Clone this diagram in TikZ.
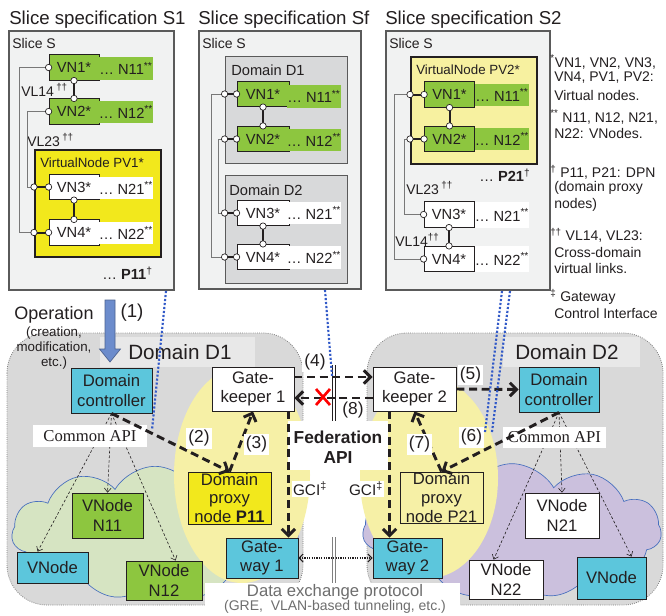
\documentclass[tikz,border=0pt]{standalone}
\usepackage{fontspec}
\setmainfont{Liberation Sans}
\newfontfamily\seriffont{Liberation Serif}
\usetikzlibrary{arrows.meta,shapes.symbols}
\newcommand\setfs[2]{\fontsize{#1}{#2}\selectfont}
\newcommand\conncirc[1]{\draw[fill=white,draw=txt,line width=0.5pt] (#1) circle[radius=3.2];}
\definecolor{txt}{RGB}{35,31,32}
\definecolor{panelbg}{RGB}{241,242,242}
\definecolor{panelline}{RGB}{90,90,90}
\definecolor{dombg}{RGB}{216,217,218}
\definecolor{vgreen}{RGB}{141,198,63}
\definecolor{vyellow}{RGB}{242,232,28}
\definecolor{lyellow}{RGB}{247,241,160}
\definecolor{ellyellow}{RGB}{246,240,166}
\definecolor{vcyan}{RGB}{92,198,220}
\definecolor{dgray}{RGB}{217,217,217}
\definecolor{gcloud}{RGB}{214,228,194}
\definecolor{pcloud}{RGB}{203,192,221}
\definecolor{cloudline}{RGB}{70,110,190}
\definecolor{bdot}{RGB}{50,90,200}
\definecolor{oparrow}{RGB}{108,140,204}
\definecolor{linkgray}{RGB}{120,120,120}
\definecolor{dgtext}{RGB}{110,110,110}
\begin{document}
\begin{tikzpicture}[x=0.75pt,y=-0.75pt,
  every node/.style={text=txt},
  panel/.style={fill=panelbg,draw=panelline,line width=0.9pt},
  titletext/.style={anchor=west,inner sep=0pt,font=\setfs{14}{16}},
  smalltext/.style={anchor=west,inner sep=0pt,font=\setfs{10.5}{12}},
  vnbox/.style={draw=txt,line width=0.6pt,minimum width=37.5pt,minimum height=19pt,inner sep=0pt,font=\setfs{11}{12}},
  nlabel/.style={minimum width=37.5pt,minimum height=17pt,inner sep=0pt,font=\setfs{11}{12}},
  pvbox/.style={draw=txt,line width=1.5pt,inner sep=0pt},
  dombox/.style={draw=panelline,fill=dombg,line width=0.6pt,inner sep=0pt},
  thicklink/.style={line width=1.5pt,draw=txt},
  outerlink/.style={line width=0.7pt,draw=linkgray},
  foottext/.style={anchor=west,inner sep=0pt,font=\setfs{10.5}{12}},
  domainarea/.style={fill=dgray,draw=gray,densely dotted,line width=0.6pt,rounded corners=30pt},
  bnode/.style={draw=txt,line width=0.6pt,inner sep=0pt,align=center,font=\setfs{12.5}{14.5}},
  apibox/.style={fill=white,inner sep=0pt,font=\seriffont\setfs{12.5}{14}},
  thinarr/.style={draw=txt,line width=0.45pt,dash pattern=on 2pt off 1.5pt,-{Straight Barb[length=3pt,width=5pt]}},
  thickarr/.style={draw=txt,line width=2.2pt,dash pattern=on 6pt off 3.5pt,-{Straight Barb[length=5pt,width=10pt]}},
  steplabel/.style={fill=white,inner sep=1.5pt,font=\setfs{13}{15}},
  bluedot/.style={draw=bdot,line width=1.6pt,dash pattern=on 1.6pt off 1.4pt},
  gcilabel/.style={fill=white,inner sep=1pt,font=\setfs{11.5}{13}},
  cloudarea/.style={cloud,cloud puffs=11,cloud puff arc=120,cloud ignores aspect,draw=cloudline,line width=0.5pt,inner sep=0pt}
]
\useasboundingbox (0,0) rectangle (666,615);
\fill[white] (0,0) rectangle (666,615);

%% ================= Slice specification S1 =================
\draw[panel] (9,31) rectangle (174,290);
\node[titletext] (t1) at (9,20) {Slice specification S1};
\node[smalltext] (s1s) at (12,43) {Slice S};
\node[vnbox,fill=vgreen] (s1a) at (74,67.5) {VN1*};
\node[nlabel,fill=vgreen] (s1an) at (126,68.5) {…~N11\textsuperscript{**}};
\node[vnbox,fill=vgreen] (s1b) at (74,111.5) {VN2*};
\node[nlabel,fill=vgreen] (s1bn) at (126,112) {…~N12\textsuperscript{**}};
\node[pvbox,fill=vyellow,minimum width=94.5pt,minimum height=80.25pt] (pv1) at (98,203.5) {};
\node[smalltext,font=\setfs{10}{12}] (pv1t) at (40,163) {VirtualNode PV1*};
\node[vnbox,fill=white] (s1c) at (74,187) {VN3*};
\node[nlabel,fill=white] (s1cn) at (126,188) {…~N21\textsuperscript{**}};
\node[vnbox,fill=white] (s1d) at (74,232.5) {VN4*};
\node[nlabel,fill=white] (s1dn) at (126,233) {…~N22\textsuperscript{**}};
\node[smalltext] (s1vl14) at (21,90) {VL14\,\textsuperscript{††}};
\node[smalltext] (s1vl23) at (27,140) {VL23\,\textsuperscript{††}};
\node[smalltext,font=\setfs{11}{12}] (s1p) at (102,273) {…~\textbf{P11}\textsuperscript{†}};
\draw[outerlink] (s1a.west) -| (19,232.5) -- (pv1.west |- s1d.west);
\draw[outerlink] (s1b.west) -| (27,187) -- (pv1.west |- s1c.west);
\draw[thicklink] (pv1.west |- s1c.west) -- (s1c.west);
\draw[thicklink] (pv1.west |- s1d.west) -- (s1d.west);
\draw[thicklink] (s1a.south) -- (s1b.north);
\draw[thicklink] (s1c.south) -- (s1d.north);
\conncirc{s1a.west}\conncirc{s1b.west}\conncirc{s1c.west}\conncirc{s1d.west}
\conncirc{pv1.west |- s1c.west}\conncirc{pv1.west |- s1d.west}
\conncirc{s1a.south}\conncirc{s1b.north}\conncirc{s1c.south}\conncirc{s1d.north}

%% ================= Slice specification Sf =================
\draw[panel] (199,31) rectangle (361,289);
\node[titletext] (t2) at (198,20) {Slice specification Sf};
\node[smalltext] (sfs) at (202,43) {Slice S};
\node[dombox,minimum width=91.5pt,minimum height=80.25pt] (sfd1) at (286,109.5) {};
\node[smalltext,font=\setfs{11}{12}] (sfd1t) at (231,70) {Domain D1};
\node[dombox,minimum width=91.5pt,minimum height=81pt] (sfd2) at (286,229) {};
\node[smalltext,font=\setfs{11}{12}] (sfd2t) at (229,190) {Domain D2};
\node[vnbox,fill=vgreen,minimum width=39pt] (sfa) at (263,94) {VN1*};
\node[nlabel,fill=vgreen] (sfan) at (314,96.5) {…~N11\textsuperscript{**}};
\node[vnbox,fill=vgreen,minimum width=39pt] (sfb) at (263,139) {VN2*};
\node[nlabel,fill=vgreen] (sfbn) at (314,140) {…~N12\textsuperscript{**}};
\node[vnbox,fill=white,minimum width=39pt] (sfc) at (263,213) {VN3*};
\node[nlabel,fill=white] (sfcn) at (314,213) {…~N21\textsuperscript{**}};
\node[vnbox,fill=white,minimum width=39pt] (sfd) at (263,257) {VN4*};
\node[nlabel,fill=white] (sfdn) at (314,257.5) {…~N22\textsuperscript{**}};
\draw[outerlink] (sfd1.west |- sfa.west) -| (211,257) -- (sfd2.west |- sfd.west);
\draw[outerlink] (sfd1.west |- sfb.west) -| (218,213) -- (sfd2.west |- sfc.west);
\draw[thicklink] (sfd1.west |- sfa.west) -- (sfa.west);
\draw[thicklink] (sfd1.west |- sfb.west) -- (sfb.west);
\draw[thicklink] (sfd2.west |- sfc.west) -- (sfc.west);
\draw[thicklink] (sfd2.west |- sfd.west) -- (sfd.west);
\draw[thicklink] (sfa.south) -- (sfb.north);
\draw[thicklink] (sfc.south) -- (sfd.north);
\conncirc{sfa.west}\conncirc{sfb.west}\conncirc{sfc.west}\conncirc{sfd.west}
\conncirc{sfd1.west |- sfa.west}\conncirc{sfd1.west |- sfb.west}
\conncirc{sfd2.west |- sfc.west}\conncirc{sfd2.west |- sfd.west}
\conncirc{sfa.south}\conncirc{sfb.north}\conncirc{sfc.south}\conncirc{sfd.north}

%% ================= Slice specification S2 =================
\draw[panel] (386,31) rectangle (550,290);
\node[titletext] (t3) at (385,20) {Slice specification S2};
\node[smalltext] (s2s) at (389,43) {Slice S};
\node[pvbox,fill=lyellow,minimum width=94.5pt,minimum height=80.25pt] (pv2) at (474,110.5) {};
\node[smalltext,font=\setfs{10}{12}] (pv2t) at (416,70) {VirtualNode PV2*};
\node[vnbox,fill=vgreen] (s2a) at (449.5,94.5) {VN1*};
\node[nlabel,fill=vgreen] (s2an) at (502,95) {…~N11\textsuperscript{**}};
\node[vnbox,fill=vgreen] (s2b) at (449.5,139) {VN2*};
\node[nlabel,fill=vgreen] (s2bn) at (502,139) {…~N12\textsuperscript{**}};
\node[vnbox,fill=white] (s2c) at (449,214.5) {VN3*};
\node[nlabel,fill=white,minimum height=19pt] (s2cn) at (502,215) {…~N21\textsuperscript{**}};
\node[vnbox,fill=white] (s2d) at (449,259) {VN4*};
\node[nlabel,fill=white,minimum height=19pt] (s2dn) at (502,259) {…~N22\textsuperscript{**}};
\node[smalltext,font=\setfs{11}{12}] (s2p) at (479,175) {…~\textbf{P21}\textsuperscript{†}};
\node[smalltext] (s2vl23) at (406,188) {VL23\,\textsuperscript{††}};
\node[smalltext] (s2vl14) at (395,240) {VL14\textsuperscript{††}};
\draw[outerlink] (pv2.west |- s2a.west) -| (394,259) -- (s2d.west);
\draw[outerlink] (pv2.west |- s2b.west) -| (404,214.5) -- (s2c.west);
\draw[thicklink] (pv2.west |- s2a.west) -- (s2a.west);
\draw[thicklink] (pv2.west |- s2b.west) -- (s2b.west);
\draw[thicklink] (s2a.south) -- (s2b.north);
\draw[thicklink] (s2c.south) -- (s2d.north);
\conncirc{s2a.west}\conncirc{s2b.west}\conncirc{s2c.west}\conncirc{s2d.west}
\conncirc{pv2.west |- s2a.west}\conncirc{pv2.west |- s2b.west}
\conncirc{s2a.south}\conncirc{s2b.north}\conncirc{s2c.south}\conncirc{s2d.north}

%% ================= footnotes =================
\node[foottext] (f1) at (550,62) {\textsuperscript{*}VN1, VN2, VN3,};
\node[foottext] (f2) at (554,78) {VN4, PV1, PV2:};
\node[foottext] (f3) at (554,95) {Virtual nodes.};
\node[foottext] (f4) at (550,117) {\textsuperscript{**} N11, N12, N21,};
\node[foottext] (f5) at (554,133) {N22: VNodes.};
\node[foottext] (f6) at (550,172) {\textsuperscript{†} P11, P21: DPN};
\node[foottext] (f7) at (554,188) {(domain proxy};
\node[foottext] (f8) at (554,205) {nodes)};
\node[foottext] (f9) at (550,235) {\textsuperscript{††} VL14, VL23:};
\node[foottext] (f10) at (554,252) {Cross-domain};
\node[foottext] (f11) at (554,268) {virtual links.};
\node[foottext] (f12) at (550,297) {\textsuperscript{‡} Gateway};
\node[foottext] (f13) at (554,313) {Control Interface};

%% ================= domains =================
\draw[domainarea] (7,333) rectangle (303,605);
\draw[domainarea] (367,333) rectangle (663,605);
\fill[white,opacity=0.4] (100,337) rectangle (255,367);
\fill[white,opacity=0.4] (503,337) rectangle (640,367);
\node[font=\setfs{15.5}{17}] (d1t) at (180,352) {Domain D1};
\node[font=\setfs{15.5}{17}] (d2t) at (567,352) {Domain D2};

\node[cloudarea,fill=gcloud,minimum width=215pt,minimum height=100pt] (cloud1) at (155,533) {};
\node[cloudarea,fill=pcloud,minimum width=224pt,minimum height=101pt] (cloud2) at (512,531) {};

\fill[ellyellow] (242,475) ellipse [x radius=68,y radius=108];
\fill[ellyellow] (429,478) ellipse [x radius=69,y radius=100];

\fill[white] (288,421) rectangle (388,470);
\fill[white] (205,583) rectangle (460,615);
\node[align=center,font=\bfseries\setfs{13}{15}] (fed) at (338,447) {Federation\\API};
\node[text=dgtext,font=\setfs{12.5}{14}] (dx1) at (335,592) {Data exchange protocol};
\node[text=dgtext,font=\setfs{10.5}{12}] (dx2) at (335,607) {(GRE,\ \ VLAN-based tunneling, etc.)};

\draw[txt,line width=0.6pt] (332,365) -- (332,421) (335.5,365) -- (335.5,421);
\draw[gray,line width=0.6pt] (332,537) -- (332,583) (335.5,537) -- (335.5,583);

%% operation arrow
\draw[fill=oparrow,draw=oparrow!70!black,line width=0.5pt] (105,300) -- (115,300) -- (115,349) -- (120.5,349) -- (110,362) -- (99.5,349) -- (105,349) -- cycle;
\node[font=\setfs{14}{16}] (op1) at (132,313) {(1)};
\node[font=\setfs{13.5}{15}] (opt) at (54,315) {Operation};
\node[align=center,font=\setfs{10}{11.25}] (opt2) at (54,348) {(creation,\\modification,\\etc.)};

%% ================= nodes =================
\node[bnode,fill=vcyan,minimum width=60.75pt,minimum height=33.75pt] (dc1) at (111.5,390.5) {Domain\\controller};
\node[bnode,fill=white,minimum width=61.5pt,minimum height=33pt] (gk1) at (253,389) {Gate-\\keeper 1};
\node[bnode,fill=white,minimum width=62.25pt,minimum height=33pt] (gk2) at (414.5,389) {Gate-\\keeper 2};
\node[bnode,fill=vcyan,minimum width=60pt,minimum height=33.75pt] (dc2) at (559,389.5) {Domain\\controller};
\node[bnode,fill=vyellow,minimum width=62.25pt,minimum height=39pt,font=\setfs{12.5}{14}] (dpn1) at (229.5,498) {Domain\\proxy\\node \textbf{P11}};
\node[bnode,fill=ellyellow,minimum width=62.25pt,minimum height=38.25pt,font=\setfs{12.5}{14}] (dpn2) at (441.5,497.5) {Domain\\proxy\\node P21};
\node[bnode,fill=vcyan,minimum width=54pt,minimum height=30pt] (gw1) at (262,558) {Gate-\\way 1};
\node[bnode,fill=vcyan,minimum width=51.75pt,minimum height=30pt] (gw2) at (407.5,558) {Gate-\\way 2};
\node[bnode,fill=vcyan,minimum width=53.25pt,minimum height=23.25pt] (vnc1) at (52.5,567.5) {VNode};
\node[bnode,fill=vgreen,minimum width=53.25pt,minimum height=33.75pt] (n11) at (107.5,515.5) {VNode\\N11};
\node[bnode,fill=vgreen,minimum width=57pt,minimum height=29.25pt] (n12) at (164,580.5) {VNode\\N12};
\node[bnode,fill=white,minimum width=55.5pt,minimum height=33.75pt] (n21) at (562,515.5) {VNode\\N21};
\node[bnode,fill=white,minimum width=55.5pt,minimum height=29.25pt] (n22) at (506,579.5) {VNode\\N22};
\node[bnode,fill=vcyan,minimum width=51.75pt,minimum height=31.5pt] (vnc2) at (611.5,578) {VNode};

%% thin dashed arrows to VNodes
\draw[thinarr] (dc1.south) -- ([xshift=15.75pt]vnc1.north west);
\draw[thinarr] (dc1.south) -- (n11.north);
\draw[thinarr] (dc1.south) -- ([xshift=37.5pt]n12.north west);
\draw[thinarr] (dc2.south) -- (n21.north);
\draw[thinarr] (dc2.south) -- ([xshift=18.75pt]n22.north west);
\draw[thinarr] (dc2.south) -- ([xshift=41.25pt]vnc2.north west);

\node[apibox,minimum width=85.5pt,minimum height=16.5pt] (api1) at (90,436) {Common API};
\node[apibox,minimum width=77.25pt,minimum height=15.75pt] (api2) at (554.5,437.5) {Common API};

%% thick dashed arrows
\draw[thickarr] (dc1.south) -- (dpn1.north);
\draw[thickarr] (dpn1.north) -- (gk1.south);
\draw[thickarr] ([yshift=9pt]gk1.east) -- ([yshift=9pt]gk2.west);
\draw[thickarr] ([yshift=-6.75pt]gk2.west) -- ([yshift=-6.75pt]gk1.east);
\draw[thickarr] (gk2.east) -- (dc2.west);
\draw[thickarr] (dc2.south) -- (dpn2.north);
\draw[thickarr] (dpn2.north) -- (gk2.south);
\coordinate (g1a) at ([xshift=-4.5pt]gk1.south east);
\coordinate (g2a) at ([xshift=12.75pt]gk2.south west);
\draw[thickarr] (g1a) -- (g1a |- gw1.north);
\draw[thickarr] (g2a) -- (g2a |- gw2.north);
\draw[densely dotted,line width=0.8pt,draw=txt,{Straight Barb[length=3pt,width=6pt]}-{Straight Barb[length=3pt,width=6pt]}] (gw1.east) -- (gw2.west);

\draw[red,line width=2pt] (316,389) -- (330,405) (316,405) -- (330,389);

\node[steplabel] (l2) at (199,438.5) {(2)};
\node[steplabel] (l3) at (256.5,444.5) {(3)};
\node[steplabel] (l4) at (315,362) {(4)};
\node[steplabel] (l8) at (353,410) {(8)};
\node[steplabel] (l5) at (470.5,375) {(5)};
\node[steplabel] (l6) at (471.5,437.5) {(6)};
\node[steplabel] (l7) at (419.5,444.5) {(7)};
\node[gcilabel] (gci1) at (310,489) {GCI\textsuperscript{‡}};
\node[gcilabel] (gci2) at (366,489) {GCI\textsuperscript{‡}};

%% blue dotted lines from slice specs
\coordinate (b1s) at (166,291); \coordinate (b1e) at (152,430);
\coordinate (bfs) at (325,290); \coordinate (bfe) at (332,376);
\coordinate (b2s) at (502,291); \coordinate (b2e) at (485,432);
\coordinate (b3s) at (510,291); \coordinate (b3e) at (492,432);
\draw[bluedot] (b1s) -- (b1e);
\draw[bluedot] (bfs) -- (bfe);
\draw[bluedot] (b2s) -- (b2e);
\draw[bluedot] (b3s) -- (b3e);
\end{tikzpicture}
\end{document}
